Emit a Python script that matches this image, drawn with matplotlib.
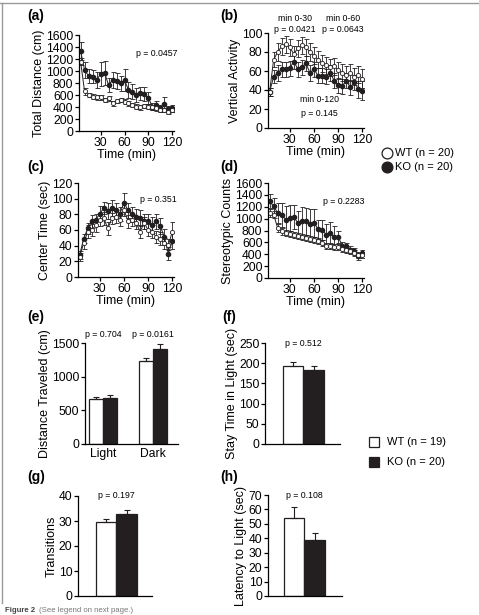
import matplotlib
matplotlib.use('Agg')
import matplotlib.pyplot as plt
from matplotlib.lines import Line2D

plt.rcParams['font.family'] = ['Liberation Sans', 'DejaVu Sans']
plt.rcParams['font.size'] = 8

W, H = 479, 615

# time course data (5 min bins)
t = [5, 10, 15, 20, 25, 30, 35, 40, 45, 50, 55, 60, 65, 70, 75, 80, 85, 90, 95, 100, 105, 110, 115, 120]

dist_wt = [1155, 660, 600, 572, 561, 560, 517, 544, 461, 500, 517, 489, 461, 433, 405, 394, 417, 405, 394, 378, 350, 350, 322, 350]
dist_wt_err = [60, 60, 40, 40, 40, 40, 40, 40, 40, 40, 40, 40, 40, 40, 40, 40, 40, 40, 40, 40, 40, 40, 40, 40]
dist_ko = [1333, 1017, 917, 905, 850, 950, 972, 767, 850, 833, 794, 850, 683, 656, 600, 628, 617, 544, 405, 433, 378, 450, 361, 378]
dist_ko_err = [150, 140, 120, 110, 130, 200, 200, 110, 130, 130, 120, 180, 130, 120, 110, 110, 120, 100, 60, 70, 60, 120, 60, 60]

vert_wt = [38, 72, 80, 86, 88, 85, 78, 84, 87, 85, 80, 76, 72, 68, 66, 64, 65, 61, 58, 56, 58, 54, 56, 52]
vert_wt_err = [4, 8, 9, 9, 9, 9, 8, 9, 9, 9, 9, 9, 9, 9, 9, 9, 9, 9, 9, 9, 9, 9, 9, 10]
vert_ko = [38, 54, 58, 62, 62, 63, 70, 62, 64, 68, 58, 62, 55, 55, 54, 58, 50, 45, 44, 50, 43, 48, 41, 39]
vert_ko_err = [4, 7, 8, 8, 8, 8, 8, 8, 8, 8, 8, 8, 8, 8, 8, 8, 8, 8, 8, 8, 8, 8, 9, 10]

center_wt = [26, 43, 58, 60, 66, 73, 75, 62, 75, 77, 73, 86, 71, 73, 69, 58, 69, 60, 58, 51, 49, 43, 41, 58]
center_wt_err = [5, 7, 8, 8, 8, 8, 8, 8, 7, 8, 8, 8, 8, 8, 8, 8, 8, 8, 8, 8, 8, 7, 7, 12]
center_ko = [28, 49, 62, 71, 73, 81, 88, 84, 88, 86, 81, 95, 85, 80, 77, 75, 71, 71, 66, 71, 65, 51, 30, 46]
center_ko_err = [5, 6, 7, 8, 8, 10, 8, 10, 10, 9, 9, 12, 10, 10, 10, 10, 10, 10, 10, 10, 10, 10, 8, 10]

stereo_wt = [1095, 1067, 842, 786, 758, 746, 730, 702, 690, 674, 662, 646, 618, 590, 545, 533, 522, 522, 488, 477, 449, 421, 393, 393]
stereo_wt_err = [60, 60, 60, 60, 50, 50, 50, 50, 50, 50, 50, 50, 50, 50, 50, 50, 50, 50, 50, 50, 50, 50, 50, 50]
stereo_ko = [1291, 1207, 1095, 1067, 982, 1010, 1027, 926, 954, 954, 915, 926, 825, 814, 730, 758, 690, 690, 545, 533, 477, 449, 365, 421]
stereo_ko_err = [120, 140, 170, 200, 230, 220, 200, 200, 240, 230, 250, 240, 160, 170, 180, 180, 180, 100, 60, 60, 60, 60, 60, 50]

# light/dark box data
ld_cats = ['Light', 'Dark']
ld_wt = [665, 1240]
ld_wt_err = [35, 35]
ld_ko = [690, 1415]
ld_ko_err = [40, 70]

stay = [192, 183]
stay_err = [10, 11]
trans = [29.5, 32.7]
trans_err = [1.5, 1.8]
latency = [53.8, 38.5]
latency_err = [7.7, 5.5]

DARK = '#231f20'
TICK_FS = 8.7
LAB_FS = 9.0
P_FS = 6.3


def fig_rect(x0, x1, y0, y1):
    return [x0 / W, 1 - y1 / H, (x1 - x0) / W, (y1 - y0) / H]


def style(ax):
    for s in ['top', 'right']:
        ax.spines[s].set_visible(False)
    for s in ['left', 'bottom']:
        ax.spines[s].set_linewidth(0.9)
    ax.tick_params(direction='out', length=3, width=0.9, labelsize=TICK_FS, pad=1)


def time_panel(rect, wt, wt_err, ko, ko_err, ylim, yticks, ylabel):
    ax = fig.add_axes(fig_rect(*rect))
    ax.errorbar(t, ko, yerr=ko_err, color=DARK, lw=0.7, elinewidth=0.6, capsize=1.8,
                capthick=0.6, marker='o', ms=3.0, mfc=DARK, mec=DARK)
    ax.errorbar(t, wt, yerr=wt_err, color=DARK, lw=0.7, elinewidth=0.6, capsize=1.8,
                capthick=0.6, marker='o', ms=3.0, mfc='white', mec=DARK, mew=0.6)
    ax.set_xlim(3, 122)
    ax.set_ylim(*ylim)
    ax.set_xticks([30, 60, 90, 120])
    ax.set_yticks(yticks)
    ax.set_xlabel('Time (min)', fontsize=LAB_FS, labelpad=0)
    ax.set_ylabel(ylabel, fontsize=LAB_FS, labelpad=1)
    style(ax)
    return ax


fig = plt.figure(figsize=(W / 100, H / 100), dpi=100)

# page frame
fig.add_artist(Line2D([0, 1], [1 - 3 / H, 1 - 3 / H], transform=fig.transFigure, color='#9a9a9a', lw=1))
fig.add_artist(Line2D([2 / W, 2 / W], [1 - 3 / H, 1 - 603 / H], transform=fig.transFigure, color='#9a9a9a', lw=1))

# (a)
ax = time_panel((79, 174, 35, 131), dist_wt, dist_wt_err, dist_ko, dist_ko_err,
                (0, 1600), range(0, 1601, 200), 'Total Distance (cm)')
ax.text(0.6, 0.78, 'p = 0.0457', transform=ax.transAxes, fontsize=P_FS)

# (b)
ax = time_panel((268, 364, 33, 128), vert_wt, vert_wt_err, vert_ko, vert_ko_err,
                (0, 100), range(0, 101, 20), 'Vertical Activity')
ax.text(0.28, 1.13, 'min 0-30', transform=ax.transAxes, fontsize=P_FS, ha='center')
ax.text(0.28, 1.01, 'p = 0.0421', transform=ax.transAxes, fontsize=P_FS, ha='center')
ax.text(0.78, 1.13, 'min 0-60', transform=ax.transAxes, fontsize=P_FS, ha='center')
ax.text(0.78, 1.01, 'p = 0.0643', transform=ax.transAxes, fontsize=P_FS, ha='center')
ax.text(0.54, 0.27, 'min 0-120', transform=ax.transAxes, fontsize=P_FS, ha='center')
ax.text(0.54, 0.13, 'p = 0.145', transform=ax.transAxes, fontsize=P_FS, ha='center')

# (c)
ax = time_panel((78, 174, 183, 277), center_wt, center_wt_err, center_ko, center_ko_err,
                (0, 120), range(0, 121, 20), 'Center Time (sec)')
ax.text(0.65, 0.8, 'p = 0.351', transform=ax.transAxes, fontsize=P_FS)

# (d)
ax = time_panel((268, 364, 183, 278), stereo_wt, stereo_wt_err, stereo_ko, stereo_ko_err,
                (0, 1600), range(0, 1601, 200), 'Stereotypic Counts')
ax.text(0.57, 0.78, 'p = 0.2283', transform=ax.transAxes, fontsize=P_FS)

# legend for time courses
for yy, fc, lab in [(153, 'white', 'WT (n = 20)'), (167, DARK, 'KO (n = 20)')]:
    fig.add_artist(Line2D([387 / W], [1 - yy / H], transform=fig.transFigure, marker='o',
                          ms=7.8, mfc=fc, mec=DARK, mew=0.9, lw=0))
    fig.text(395 / W, 1 - yy / H, lab, fontsize=8, va='center')

bar_kw = dict(edgecolor=DARK, linewidth=0.9)
err_kw = dict(elinewidth=0.8, capsize=2.5, capthick=0.8, ecolor=DARK)

# (e)
ax = fig.add_axes(fig_rect(85, 178, 343, 444))
xs = list(range(len(ld_cats)))
ax.bar([x - 0.14 for x in xs], ld_wt, 0.28, color='white', **bar_kw)
ax.bar([x + 0.14 for x in xs], ld_ko, 0.28, color=DARK, **bar_kw)
ax.errorbar([x - 0.14 for x in xs], ld_wt, yerr=[[0, 0], ld_wt_err], fmt='none', **err_kw)
ax.errorbar([x + 0.14 for x in xs], ld_ko, yerr=[[0, 0], ld_ko_err], fmt='none', **err_kw)
ax.set_xlim(-0.36, 1.5)
ax.set_ylim(0, 1500)
ax.set_yticks([0, 500, 1000, 1500])
ax.set_xticks(xs)
ax.set_xticklabels(ld_cats)
ax.set_ylabel('Distance Traveled (cm)', fontsize=LAB_FS, labelpad=1)
style(ax)
ax.tick_params(axis='x', length=0, pad=3)
ax.text(0.0, 1560, 'p = 0.704', fontsize=P_FS, ha='center', va='bottom')
ax.text(1.0, 1560, 'p = 0.0161', fontsize=P_FS, ha='center', va='bottom')


def single_bar(rect, vals, errs, ylim, yticks, ylabel, xlim, ptxt):
    ax = fig.add_axes(fig_rect(*rect))
    ax.bar([0, 1], vals, 1.0, color=['white', DARK], **bar_kw)
    ax.errorbar([0, 1], vals, yerr=[[0, 0], errs], fmt='none', **err_kw)
    ax.set_xlim(*xlim)
    ax.set_ylim(*ylim)
    ax.set_yticks(yticks)
    ax.set_xticks([])
    ax.set_ylabel(ylabel, fontsize=LAB_FS, labelpad=1)
    style(ax)
    ax.text(0.5, ylim[1], ptxt, fontsize=P_FS, ha='center', va='center')
    return ax


single_bar((265, 340, 343, 444), stay, stay_err, (0, 250), range(0, 251, 50),
           'Stay Time in Light (sec)', (-1.37, 2.29), 'p = 0.512')
single_bar((78, 152, 496, 596), trans, trans_err, (0, 40), range(0, 41, 10),
           'Transitions', (-1.37, 2.24), 'p = 0.197')
single_bar((268, 342, 495, 596), latency, latency_err, (0, 70), range(0, 71, 10),
           'Latency to Light (sec)', (-1.24, 2.29), 'p = 0.108')

# legend for bars
for yy, fc, lab in [(442, 'white', 'WT (n = 19)'), (462, DARK, 'KO (n = 20)')]:
    fig.add_artist(Line2D([374 / W], [1 - yy / H], transform=fig.transFigure, marker='s',
                          ms=7, mfc=fc, mec=DARK, mew=0.9, lw=0))
    fig.text(387 / W, 1 - yy / H, lab, fontsize=8, va='center')

# panel letters
for lab, x, y in [('(a)', 36, 16), ('(b)', 229, 16), ('(c)', 36, 167), ('(d)', 229, 167),
                  ('(e)', 36, 317), ('(f)', 229, 317), ('(g)', 36, 477), ('(h)', 229, 477)]:
    fig.text(x / W, 1 - y / H, lab, fontsize=10, fontweight='bold', ha='center', va='center')

fig.text(5 / W, 1 - 611 / H, 'Figure 2', fontsize=5.6, fontweight='bold', color='#444444', va='center')
fig.text(39 / W, 1 - 611 / H, '(See legend on next page.)', fontsize=5.6, color='#777777', va='center')

fig.savefig('out.png', dpi=100)
